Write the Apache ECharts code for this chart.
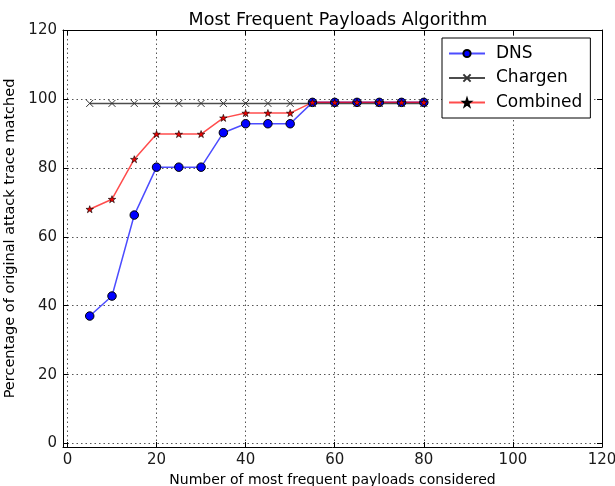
<!DOCTYPE html>
<html>
<head>
<meta charset="utf-8">
<script src="https://cdn.jsdelivr.net/npm/echarts@6/dist/echarts.min.js"></script>
<style>html,body{margin:0;padding:0;background:#fff;}#c{width:615px;height:486px;}</style>
</head>
<body>
<div id="c"></div>
<script>
var xValues = [5,10,15,20,25,30,35,40,45,50,55,60,65,70,75,80];
var dns = [37.0,42.8,66.3,80.2,80.2,80.2,90.2,92.8,92.8,92.8,99.0,99.0,99.0,99.0,99.0,99.0];
var chargen = [98.7,98.7,98.7,98.7,98.7,98.7,98.7,98.7,98.7,98.7,98.7,98.7,98.7,98.7,98.7,98.7];
var combined = [68.0,70.9,82.5,89.8,89.8,89.8,94.5,95.9,95.9,95.9,99.0,99.0,99.0,99.0,99.0,99.0];
var tickValues = [0,20,40,60,80,100,120];

function pairs(ys){ return xValues.map(function(x,i){ return [x, ys[i]]; }); }

var font = 'DejaVu Sans';
var chart = echarts.init(document.getElementById('c'));
function mainAxis(pos, showLabel, name, nameGap, nameSize){
  return {
    type: 'value', position: pos, min: -1, max: 120,
    name: name, nameLocation: 'middle', nameGap: nameGap,
    nameTextStyle: {fontFamily: font, fontSize: nameSize, color: '#000'},
    axisLine: {show: true, onZero: false, lineStyle: {color: '#000', width: 1}},
    axisTick: {show: true, inside: true, length: 5, customValues: tickValues, lineStyle: {color: '#000'}},
    axisLabel: {show: showLabel, customValues: tickValues, fontFamily: font, fontSize: 15, color: '#1a1a1a', margin: 6},
    splitLine: {show: false}
  };
}
var xa = mainAxis('bottom', true, 'Number of most frequent payloads considered', 25, 14);
var xa2 = mainAxis('top', false, '', 0, 14);
var ya = mainAxis('left', true, 'Percentage of original attack trace matched', 34, 14.5);
var ya2 = mainAxis('right', false, '', 0, 14);
xa.splitLine = {show: true, lineStyle: {color: '#555', type: [1.5,3], width: 1}};
ya.splitLine = {show: true, lineStyle: {color: '#555', type: [1.5,3], width: 1}};

chart.setOption({
  animation: false,
  backgroundColor: '#fff',
  title: {text: 'Most Frequent Payloads Algorithm', left: 333, textAlign: 'center', top: 6,
    textStyle: {fontFamily: font, fontSize: 17.5, fontWeight: 'normal', color: '#000'}},
  grid: {left: 63, right: 13, top: 30, bottom: 39, containLabel: false, outerBoundsMode: 'none'},
  xAxis: [xa, xa2],
  yAxis: [ya, ya2],
  legend: {
    orient: 'vertical', left: 442, top: 38, width: 150,
    padding: [7, 8, 7, 6], itemGap: 7.5, itemWidth: 36, itemHeight: 9,
    backgroundColor: '#fff', borderColor: '#000', borderWidth: 1,
    textStyle: {fontFamily: font, fontSize: 17, color: '#000', padding: [0, 0, 0, 6]},
    data: ['DNS', 'Chargen', 'Combined']
  },
  series: [
    {name: 'DNS', type: 'line', data: pairs(dns), symbol: 'circle', symbolSize: 8.5,
      lineStyle: {color: 'rgba(0,0,255,0.7)', width: 1.5},
      itemStyle: {color: '#0000ff', borderColor: '#000', borderWidth: 1}},
    {name: 'Chargen', type: 'line', data: pairs(chargen),
      symbol: 'path://M0,0L10,10M10,0L0,10', symbolSize: 7, symbolKeepAspect: true,
      lineStyle: {color: 'rgba(0,0,0,0.7)', width: 1.5},
      itemStyle: {color: 'rgba(0,0,0,0)', borderColor: '#333', borderWidth: 1}},
    {name: 'Combined', type: 'line', data: pairs(combined),
      symbol: 'path://M50,0L61.8,35.4L99,35.4L69.1,57.3L80.4,92.7L50,70.8L19.6,92.7L30.9,57.3L1,35.4L38.2,35.4Z',
      symbolSize: 7.5, symbolKeepAspect: true,
      lineStyle: {color: 'rgba(255,0,0,0.7)', width: 1.5},
      itemStyle: {color: '#ee0000', borderColor: '#000', borderWidth: 0.6}}
  ]
});
</script>
</body>
</html>
